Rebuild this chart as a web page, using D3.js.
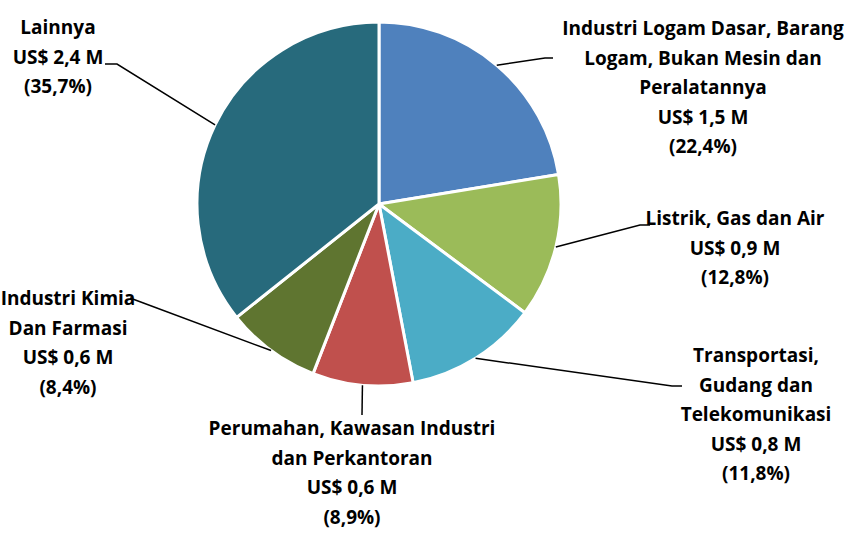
<!DOCTYPE html>
<html>
<head>
<meta charset="utf-8">
<script src="https://cdn.jsdelivr.net/npm/d3@7"></script>
<style>
  body { margin: 0; background: #fff; }
  svg text { font-family: "Open Sans", Lato, sans-serif; font-weight: bold; fill: #000; }
</style>
</head>
<body>
<svg id="chart" width="856" height="535"></svg>
<script>
// sector shares, clockwise from 12 o'clock
var sectors = ["Industri Logam", "Listrik", "Transportasi", "Perumahan", "Kimia", "Lainnya"];
var shares = [22.4, 12.8, 11.8, 8.9, 8.4, 35.7];
var values_usd = ["1,5", "0,9", "0,8", "0,6", "0,6", "2,4"];
var name_lines = [
  ["Industri Logam Dasar, Barang", "Logam, Bukan Mesin dan", "Peralatannya"],
  ["Listrik, Gas dan Air"],
  ["Transportasi,", "Gudang dan", "Telekomunikasi"],
  ["Perumahan, Kawasan Industri", "dan Perkantoran"],
  ["Industri Kimia", "Dan Farmasi"],
  ["Lainnya"]
];
var colors = ["#4f81bd", "#9bbb59", "#4bacc6", "#c0504d", "#5f7530", "#276a7c"];

// label layout: text centre x, first line y, elbow of leader line, end of leader
var label_pos = [
  {x: 703, y: 35, elbow: [545, 58], end: [553, 58]},
  {x: 735, y: 225, elbow: [640, 225], end: [650, 225]},
  {x: 756, y: 362, elbow: [672, 386], end: [682, 386]},
  {x: 352, y: 435, elbow: [362, 415], end: [362, 415]},
  {x: 68, y: 305, elbow: [130, 298], end: [130, 298]},
  {x: 58, y: 34, elbow: [117, 64], end: [105, 64]}
];

var cx = 379, cy = 204, radius = 182;
var line_h = 29.5;

var svg = d3.select("#chart");
var g = svg.append("g").attr("transform", "translate(" + cx + "," + cy + ")");

var pie = d3.pie().sort(null).value(d => d)(shares);
var arc = d3.arc().innerRadius(0).outerRadius(radius);

g.selectAll("path.slice")
  .data(pie)
  .enter()
  .append("path")
  .attr("class", "slice")
  .attr("d", arc)
  .attr("fill", (d, i) => colors[i])
  .attr("stroke", "#fff")
  .attr("stroke-width", 3)
  .attr("stroke-linejoin", "round");

// leader lines from mid angle on the rim
svg.selectAll("polyline.leader")
  .data(pie)
  .enter()
  .append("polyline")
  .attr("class", "leader")
  .attr("points", function(d, i) {
    var a = (d.startAngle + d.endAngle) / 2;
    var p = [cx + radius * Math.sin(a), cy - radius * Math.cos(a)];
    var lp = label_pos[i];
    return [p, lp.elbow, lp.end].map(q => q.join(",")).join(" ");
  })
  .attr("fill", "none")
  .attr("stroke", "#000")
  .attr("stroke-width", 1.5);

// labels
sectors.forEach(function(s, i) {
  var lines = name_lines[i].concat(["US$ " + values_usd[i] + " M", "(" + d3.format(".1f")(shares[i]).replace(".", ",") + "%)"]);
  var t = svg.append("text")
    .attr("text-anchor", "middle")
    .attr("font-size", 19);
  t.selectAll("tspan")
    .data(lines)
    .enter()
    .append("tspan")
    .attr("x", label_pos[i].x)
    .attr("y", (d, k) => label_pos[i].y + k * line_h)
    .text(d => d);
});
</script>
</body>
</html>
